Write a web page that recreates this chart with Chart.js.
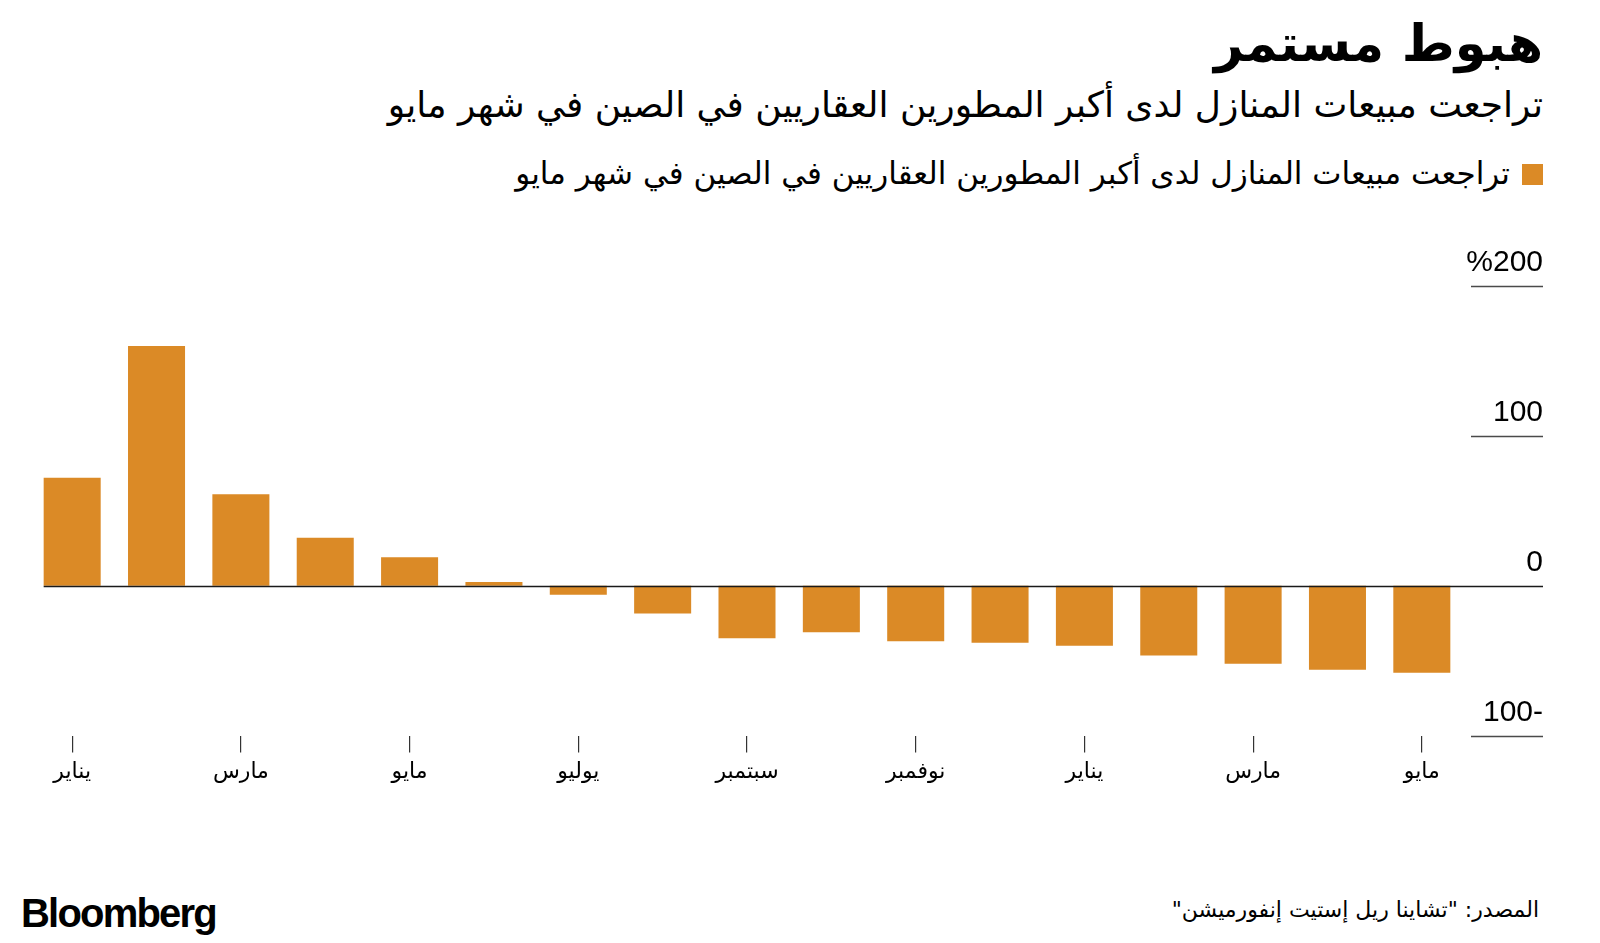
<!DOCTYPE html>
<html lang="ar">
<head>
<meta charset="utf-8">
<script src="https://cdn.jsdelivr.net/npm/chart.js@4.4.1/dist/chart.umd.min.js"></script>
<style>
  body { margin: 0; width: 1600px; height: 943px; background: #fff; position: relative; overflow: hidden; font-family: "DejaVu Sans", sans-serif; color: #000; }
  .txt { position: absolute; right: 57px; direction: rtl; white-space: nowrap; line-height: 1; }
  #titre { top: 18px; font-size: 51px; font-weight: bold; }
  #soustitre { top: 87px; font-size: 36px; }
  #legende { top: 158px; font-size: 31px; right: 57px; }
  #legende span.carre { display: inline-block; width: 21px; height: 21px; background: #DB8A26; margin-left: 12px; vertical-align: -1px; }
  #source { top: 899px; font-size: 22px; right: 61px; }
  #logo { position: absolute; left: 21px; top: 893px; font-family: "Liberation Sans", Arial, sans-serif; font-weight: bold; font-size: 40px; letter-spacing: -1.8px; line-height: 1; }
  #zone { position: absolute; left: 0; top: 200px; width: 1600px; height: 620px; }
</style>
</head>
<body>
<div class="txt" id="titre">هبوط مستمر</div>
<div class="txt" id="soustitre">تراجعت مبيعات المنازل لدى أكبر المطورين العقاريين في الصين في شهر مايو</div>
<div class="txt" id="legende"><span class="carre"></span>تراجعت مبيعات المنازل لدى أكبر المطورين العقاريين في الصين في شهر مايو</div>
<div id="zone"><canvas id="graphique"></canvas></div>
<div id="logo">Bloomberg</div>
<div class="txt" id="source">المصدر: "تشاينا ريل إستيت إنفورميشن"</div>

<script>
// mois (janvier 2021 -> mai 2022), une etiquette sur deux affichee
const mois = ["يناير", "فبراير", "مارس", "أبريل", "مايو", "يونيو", "يوليو", "أغسطس", "سبتمبر", "أكتوبر", "نوفمبر", "ديسمبر", "يناير", "فبراير", "مارس", "أبريل", "مايو"];
// variation annuelle des ventes en %
const ventes = [72, 160, 61, 32, 19, 2.5, -6, -18.5, -35, -31, -37, -38, -40, -46.5, -52, -56, -58];
// graduations de l'axe y et leur texte
const valeursY = [-100, 0, 100, 200];
const etiquettesY = ["100-", "0", "100", "%200"];

const couleurBarre = "#DB8A26";

// lignes courtes sous les etiquettes + ligne du zero
const lignesY = {
    id: "lignesY",
    afterDatasetsDraw(chart) {
        const ctx = chart.ctx;
        const y = chart.scales.y;
        const premiere = chart.getDatasetMeta(0).data[0];
        ctx.save();
        for (let v of valeursY) {
            const py = Math.round(y.getPixelForValue(v)) + 0.5;
            ctx.beginPath();
            if (v === 0) {
                ctx.strokeStyle = "#1a1a1a";
                ctx.moveTo(premiere.x - premiere.width / 2, py);
            } else {
                ctx.strokeStyle = "#4a4a4a";
                ctx.moveTo(y.left + 7, py);
            }
            ctx.lineWidth = 1.5;
            ctx.lineTo(y.right, py);
            ctx.stroke();
        }
        ctx.restore();
    }
};

const data = {
    labels: mois,
    datasets: [{
        label: "تراجعت مبيعات المنازل",
        data: ventes,
        backgroundColor: couleurBarre,
        barPercentage: 0.676,
        categoryPercentage: 1
    }]
};

const config = {
    type: "bar",
    data: data,
    options: {
        responsive: true,
        maintainAspectRatio: false,
        animation: false,
        layout: { padding: { left: 30, right: 57, top: 86, bottom: 29 } },
        plugins: { legend: { display: false }, tooltip: { enabled: false } },
        scales: {
            x: {
                border: { display: false },
                grid: {
                    offset: false,
                    drawOnChartArea: false,
                    tickLength: 17,
                    lineWidth: 1.2,
                    color: (c) => (c.index % 2 === 0 ? "#333" : "rgba(0,0,0,0)")
                },
                ticks: {
                    autoSkip: false,
                    maxRotation: 0,
                    padding: 6,
                    color: "#000",
                    font: { family: "DejaVu Sans", size: 22 },
                    callback: (v, i) => (i % 2 === 0 ? mois[i] : "")
                }
            },
            y: {
                position: "right",
                min: -100,
                max: 200,
                afterBuildTicks: (s) => { s.ticks = valeursY.map(v => ({ value: v })); },
                afterFit: (s) => { s.width = 79; },
                border: { display: false },
                grid: { display: false },
                ticks: {
                    crossAlign: "far",
                    padding: 0,
                    labelOffset: -23,
                    color: "#000",
                    font: { family: "Liberation Sans", size: 30 },
                    callback: (v) => etiquettesY[valeursY.indexOf(v)]
                }
            }
        }
    },
    plugins: [lignesY]
};

const graphique = new Chart(document.querySelector("#graphique"), config);
</script>
</body>
</html>
